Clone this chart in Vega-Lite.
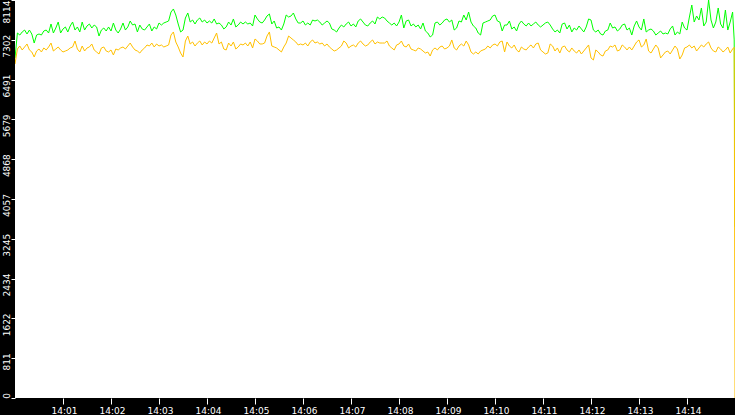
{
"$schema": "https://vega.github.io/schema/vega-lite/v6.json",
"width": 720,
"height": 398,
"autosize": "none",
"padding": {"left": 15, "top": 0, "right": 0, "bottom": 17},
"background": "#000000",
"config": {"view": {"fill": "#ffffff", "stroke": null}},
"data": {"format": {"parse": {"t": "date:'%H:%M:%S'"}}, "values": [
{"t":"14:00:00","g":6932,"o":6809},{"t":"14:00:03","g":7441,"o":7115},{"t":"14:00:06","g":7400,"o":7176},{"t":"14:00:09","g":7462,"o":7095},{"t":"14:00:12","g":7502,"o":7156},{"t":"14:00:15","g":7421,"o":7217},{"t":"14:00:18","g":7502,"o":7095},{"t":"14:00:21","g":7421,"o":7054},{"t":"14:00:24","g":7237,"o":6952},{"t":"14:00:27","g":7400,"o":7074},{"t":"14:00:30","g":7421,"o":7115},{"t":"14:00:33","g":7400,"o":7054},{"t":"14:00:36","g":7482,"o":7136},{"t":"14:00:39","g":7502,"o":7095},{"t":"14:00:42","g":7441,"o":7156},{"t":"14:00:45","g":7625,"o":7237},{"t":"14:00:48","g":7441,"o":7074},{"t":"14:00:51","g":7543,"o":7115},{"t":"14:00:54","g":7665,"o":7156},{"t":"14:00:57","g":7441,"o":7095},
{"t":"14:01:00","g":7523,"o":7054},{"t":"14:01:03","g":7564,"o":7074},{"t":"14:01:06","g":7462,"o":7095},{"t":"14:01:09","g":7584,"o":7136},{"t":"14:01:12","g":7665,"o":7156},{"t":"14:01:15","g":7502,"o":7278},{"t":"14:01:18","g":7564,"o":7115},{"t":"14:01:21","g":7462,"o":7054},{"t":"14:01:24","g":7665,"o":7176},{"t":"14:01:27","g":7502,"o":7074},{"t":"14:01:30","g":7584,"o":7136},{"t":"14:01:33","g":7625,"o":7156},{"t":"14:01:36","g":7543,"o":7217},{"t":"14:01:39","g":7604,"o":7095},{"t":"14:01:42","g":7564,"o":7054},{"t":"14:01:45","g":7380,"o":7013},{"t":"14:01:48","g":7502,"o":7136},{"t":"14:01:51","g":7543,"o":7156},{"t":"14:01:54","g":7482,"o":7074},{"t":"14:01:57","g":7564,"o":7054},
{"t":"14:02:00","g":7482,"o":7095},{"t":"14:02:03","g":7645,"o":6993},{"t":"14:02:06","g":7502,"o":7115},{"t":"14:02:09","g":7441,"o":7095},{"t":"14:02:12","g":7523,"o":7136},{"t":"14:02:15","g":7645,"o":7156},{"t":"14:02:18","g":7502,"o":7115},{"t":"14:02:21","g":7564,"o":7176},{"t":"14:02:24","g":7686,"o":7237},{"t":"14:02:27","g":7604,"o":7156},{"t":"14:02:30","g":7625,"o":7095},{"t":"14:02:33","g":7462,"o":7074},{"t":"14:02:36","g":7604,"o":7033},{"t":"14:02:39","g":7523,"o":7095},{"t":"14:02:42","g":7502,"o":7136},{"t":"14:02:45","g":7564,"o":7197},{"t":"14:02:48","g":7625,"o":7176},{"t":"14:02:51","g":7482,"o":7237},{"t":"14:02:54","g":7564,"o":7156},{"t":"14:02:57","g":7523,"o":7217},
{"t":"14:03:00","g":7645,"o":7176},{"t":"14:03:03","g":7604,"o":7197},{"t":"14:03:06","g":7645,"o":7156},{"t":"14:03:09","g":7665,"o":7176},{"t":"14:03:12","g":7686,"o":7197},{"t":"14:03:15","g":7869,"o":7400},{"t":"14:03:18","g":7931,"o":7462},{"t":"14:03:21","g":7808,"o":7258},{"t":"14:03:24","g":7625,"o":7156},{"t":"14:03:27","g":7462,"o":7033},{"t":"14:03:30","g":7502,"o":6952},{"t":"14:03:33","g":7747,"o":7278},{"t":"14:03:36","g":7849,"o":7380},{"t":"14:03:39","g":7665,"o":7217},{"t":"14:03:42","g":7706,"o":7258},{"t":"14:03:45","g":7625,"o":7176},{"t":"14:03:48","g":7706,"o":7237},{"t":"14:03:51","g":7747,"o":7278},{"t":"14:03:54","g":7665,"o":7197},{"t":"14:03:57","g":7706,"o":7258},
{"t":"14:04:00","g":7645,"o":7217},{"t":"14:04:03","g":7686,"o":7278},{"t":"14:04:06","g":7645,"o":7237},{"t":"14:04:09","g":7727,"o":7339},{"t":"14:04:12","g":7625,"o":7441},{"t":"14:04:15","g":7645,"o":7217},{"t":"14:04:18","g":7604,"o":7258},{"t":"14:04:21","g":7523,"o":7115},{"t":"14:04:24","g":7564,"o":7095},{"t":"14:04:27","g":7665,"o":7237},{"t":"14:04:30","g":7604,"o":7176},{"t":"14:04:33","g":7727,"o":7258},{"t":"14:04:36","g":7564,"o":7115},{"t":"14:04:39","g":7604,"o":7156},{"t":"14:04:42","g":7665,"o":7217},{"t":"14:04:45","g":7625,"o":7197},{"t":"14:04:48","g":7665,"o":7237},{"t":"14:04:51","g":7625,"o":7176},{"t":"14:04:54","g":7645,"o":7258},{"t":"14:04:57","g":7584,"o":7136},
{"t":"14:05:00","g":7808,"o":7319},{"t":"14:05:03","g":7727,"o":7278},{"t":"14:05:06","g":7665,"o":7217},{"t":"14:05:09","g":7645,"o":7217},{"t":"14:05:12","g":7706,"o":7237},{"t":"14:05:15","g":7788,"o":7380},{"t":"14:05:18","g":7829,"o":7462},{"t":"14:05:21","g":7625,"o":7176},{"t":"14:05:24","g":7686,"o":7156},{"t":"14:05:27","g":7543,"o":7136},{"t":"14:05:30","g":7564,"o":7095},{"t":"14:05:33","g":7502,"o":7054},{"t":"14:05:36","g":7625,"o":7156},{"t":"14:05:39","g":7808,"o":7237},{"t":"14:05:42","g":7767,"o":7380},{"t":"14:05:45","g":7788,"o":7339},{"t":"14:05:48","g":7849,"o":7299},{"t":"14:05:51","g":7727,"o":7258},{"t":"14:05:54","g":7645,"o":7197},{"t":"14:05:57","g":7645,"o":7217},
{"t":"14:06:00","g":7686,"o":7197},{"t":"14:06:03","g":7604,"o":7237},{"t":"14:06:06","g":7645,"o":7176},{"t":"14:06:09","g":7604,"o":7258},{"t":"14:06:12","g":7706,"o":7299},{"t":"14:06:15","g":7686,"o":7237},{"t":"14:06:18","g":7706,"o":7258},{"t":"14:06:21","g":7665,"o":7217},{"t":"14:06:24","g":7604,"o":7237},{"t":"14:06:27","g":7645,"o":7176},{"t":"14:06:30","g":7686,"o":7217},{"t":"14:06:33","g":7645,"o":7156},{"t":"14:06:36","g":7523,"o":7115},{"t":"14:06:39","g":7502,"o":7074},{"t":"14:06:42","g":7462,"o":7095},{"t":"14:06:45","g":7543,"o":7136},{"t":"14:06:48","g":7604,"o":7176},{"t":"14:06:51","g":7564,"o":7278},{"t":"14:06:54","g":7625,"o":7237},{"t":"14:06:57","g":7665,"o":7136},
{"t":"14:07:00","g":7584,"o":7176},{"t":"14:07:03","g":7625,"o":7197},{"t":"14:07:06","g":7564,"o":7156},{"t":"14:07:09","g":7686,"o":7237},{"t":"14:07:12","g":7727,"o":7278},{"t":"14:07:15","g":7665,"o":7217},{"t":"14:07:18","g":7604,"o":7176},{"t":"14:07:21","g":7584,"o":7197},{"t":"14:07:24","g":7645,"o":7258},{"t":"14:07:27","g":7686,"o":7299},{"t":"14:07:30","g":7625,"o":7217},{"t":"14:07:33","g":7767,"o":7258},{"t":"14:07:36","g":7727,"o":7237},{"t":"14:07:39","g":7767,"o":7237},{"t":"14:07:42","g":7747,"o":7237},{"t":"14:07:45","g":7686,"o":7278},{"t":"14:07:48","g":7645,"o":7176},{"t":"14:07:51","g":7604,"o":7136},{"t":"14:07:54","g":7645,"o":7095},{"t":"14:07:57","g":7584,"o":7197},
{"t":"14:08:00","g":7665,"o":7217},{"t":"14:08:03","g":7808,"o":7278},{"t":"14:08:06","g":7543,"o":7176},{"t":"14:08:09","g":7686,"o":7156},{"t":"14:08:12","g":7706,"o":7217},{"t":"14:08:15","g":7584,"o":7115},{"t":"14:08:18","g":7625,"o":7095},{"t":"14:08:21","g":7564,"o":7074},{"t":"14:08:24","g":7604,"o":7136},{"t":"14:08:27","g":7523,"o":7115},{"t":"14:08:30","g":7645,"o":7074},{"t":"14:08:33","g":7482,"o":7033},{"t":"14:08:36","g":7441,"o":7054},{"t":"14:08:39","g":7360,"o":6972},{"t":"14:08:42","g":7400,"o":7095},{"t":"14:08:45","g":7645,"o":7136},{"t":"14:08:48","g":7665,"o":7095},{"t":"14:08:51","g":7604,"o":7156},{"t":"14:08:54","g":7645,"o":7176},{"t":"14:08:57","g":7706,"o":7115},
{"t":"14:09:00","g":7727,"o":7136},{"t":"14:09:03","g":7665,"o":7176},{"t":"14:09:06","g":7706,"o":7299},{"t":"14:09:09","g":7502,"o":7136},{"t":"14:09:12","g":7543,"o":7095},{"t":"14:09:15","g":7686,"o":7176},{"t":"14:09:18","g":7665,"o":7217},{"t":"14:09:21","g":7808,"o":7176},{"t":"14:09:24","g":7706,"o":7278},{"t":"14:09:27","g":7869,"o":7197},{"t":"14:09:30","g":7665,"o":7054},{"t":"14:09:33","g":7584,"o":7013},{"t":"14:09:36","g":7543,"o":7054},{"t":"14:09:39","g":7441,"o":7013},{"t":"14:09:42","g":7400,"o":7074},{"t":"14:09:45","g":7645,"o":7095},{"t":"14:09:48","g":7665,"o":7115},{"t":"14:09:51","g":7686,"o":7176},{"t":"14:09:54","g":7706,"o":7136},{"t":"14:09:57","g":7788,"o":7197},
{"t":"14:10:00","g":7808,"o":7217},{"t":"14:10:03","g":7686,"o":7176},{"t":"14:10:06","g":7665,"o":7258},{"t":"14:10:09","g":7482,"o":7278},{"t":"14:10:12","g":7604,"o":7054},{"t":"14:10:15","g":7604,"o":7258},{"t":"14:10:18","g":7686,"o":7176},{"t":"14:10:21","g":7523,"o":7136},{"t":"14:10:24","g":7564,"o":7197},{"t":"14:10:27","g":7482,"o":7095},{"t":"14:10:30","g":7625,"o":7054},{"t":"14:10:33","g":7686,"o":7156},{"t":"14:10:36","g":7625,"o":7115},{"t":"14:10:39","g":7584,"o":7095},{"t":"14:10:42","g":7645,"o":7156},{"t":"14:10:45","g":7584,"o":7197},{"t":"14:10:48","g":7625,"o":7136},{"t":"14:10:51","g":7665,"o":7217},{"t":"14:10:54","g":7604,"o":7237},{"t":"14:10:57","g":7564,"o":7095},
{"t":"14:11:00","g":7604,"o":7054},{"t":"14:11:03","g":7645,"o":7013},{"t":"14:11:06","g":7665,"o":7033},{"t":"14:11:09","g":7604,"o":7217},{"t":"14:11:12","g":7523,"o":7176},{"t":"14:11:15","g":7462,"o":7074},{"t":"14:11:18","g":7502,"o":7136},{"t":"14:11:21","g":7441,"o":7033},{"t":"14:11:24","g":7625,"o":7156},{"t":"14:11:27","g":7645,"o":7176},{"t":"14:11:30","g":7523,"o":7095},{"t":"14:11:33","g":7604,"o":7054},{"t":"14:11:36","g":7462,"o":7136},{"t":"14:11:39","g":7543,"o":7074},{"t":"14:11:42","g":7502,"o":7033},{"t":"14:11:45","g":7584,"o":7095},{"t":"14:11:48","g":7523,"o":7013},{"t":"14:11:51","g":7462,"o":7074},{"t":"14:11:54","g":7564,"o":7136},{"t":"14:11:57","g":7727,"o":7197},
{"t":"14:12:00","g":7706,"o":6932},{"t":"14:12:03","g":7502,"o":6891},{"t":"14:12:06","g":7462,"o":7095},{"t":"14:12:09","g":7502,"o":7054},{"t":"14:12:12","g":7421,"o":6993},{"t":"14:12:15","g":7400,"o":6972},{"t":"14:12:18","g":7482,"o":7074},{"t":"14:12:21","g":7502,"o":7095},{"t":"14:12:24","g":7645,"o":7176},{"t":"14:12:27","g":7543,"o":7156},{"t":"14:12:30","g":7564,"o":7197},{"t":"14:12:33","g":7482,"o":7074},{"t":"14:12:36","g":7523,"o":7095},{"t":"14:12:39","g":7604,"o":7197},{"t":"14:12:42","g":7625,"o":7156},{"t":"14:12:45","g":7502,"o":7095},{"t":"14:12:48","g":7543,"o":7156},{"t":"14:12:51","g":7400,"o":7095},{"t":"14:12:54","g":7584,"o":7176},{"t":"14:12:57","g":7686,"o":7258},
{"t":"14:13:00","g":7564,"o":7299},{"t":"14:13:03","g":7502,"o":7156},{"t":"14:13:06","g":7727,"o":7197},{"t":"14:13:09","g":7462,"o":7319},{"t":"14:13:12","g":7502,"o":7074},{"t":"14:13:15","g":7523,"o":7033},{"t":"14:13:18","g":7482,"o":7115},{"t":"14:13:21","g":7400,"o":7197},{"t":"14:13:24","g":7441,"o":7136},{"t":"14:13:27","g":7482,"o":6932},{"t":"14:13:30","g":7421,"o":6993},{"t":"14:13:33","g":7441,"o":7054},{"t":"14:13:36","g":7421,"o":7074},{"t":"14:13:39","g":7523,"o":7013},{"t":"14:13:42","g":7584,"o":7095},{"t":"14:13:45","g":7400,"o":7176},{"t":"14:13:48","g":7462,"o":7115},{"t":"14:13:51","g":7421,"o":6911},{"t":"14:13:54","g":7665,"o":6993},{"t":"14:13:57","g":7543,"o":7136},
{"t":"14:14:00","g":7502,"o":7156},{"t":"14:14:03","g":7767,"o":7197},{"t":"14:14:06","g":8012,"o":7136},{"t":"14:14:09","g":7665,"o":7176},{"t":"14:14:12","g":7788,"o":7074},{"t":"14:14:15","g":7706,"o":7136},{"t":"14:14:18","g":7951,"o":7197},{"t":"14:14:21","g":7584,"o":7156},{"t":"14:14:24","g":7665,"o":7217},{"t":"14:14:27","g":8114,"o":7258},{"t":"14:14:30","g":7706,"o":7136},{"t":"14:14:33","g":7543,"o":7074},{"t":"14:14:36","g":7665,"o":7054},{"t":"14:14:39","g":7951,"o":7156},{"t":"14:14:42","g":7625,"o":7115},{"t":"14:14:45","g":7543,"o":7054},{"t":"14:14:48","g":7910,"o":7095},{"t":"14:14:51","g":7502,"o":7156},{"t":"14:14:54","g":7665,"o":7033},{"t":"14:14:57","g":7869,"o":7115},
{"t":"14:14:59","g":7300,"o":7150},{"t":"14:15:00","g":3490,"o":0}
]},
"transform": [{"fold": ["g", "o"], "as": ["series", "value"]}],
"mark": {"type": "line", "strokeWidth": 1, "clip": true},
"encoding": {
  "x": {
    "field": "t", "type": "temporal",
    "scale": {"nice": false, "domain": [
      {"year": 1900, "month": 1, "date": 1, "hours": 14, "minutes": 0},
      {"year": 1900, "month": 1, "date": 1, "hours": 14, "minutes": 15}]},
    "axis": {
      "title": null, "format": "%H:%M", "grid": false, "domain": false,
      "values": [
        {"year": 1900, "month": 1, "date": 1, "hours": 14, "minutes": 1},
        {"year": 1900, "month": 1, "date": 1, "hours": 14, "minutes": 2},
        {"year": 1900, "month": 1, "date": 1, "hours": 14, "minutes": 3},
        {"year": 1900, "month": 1, "date": 1, "hours": 14, "minutes": 4},
        {"year": 1900, "month": 1, "date": 1, "hours": 14, "minutes": 5},
        {"year": 1900, "month": 1, "date": 1, "hours": 14, "minutes": 6},
        {"year": 1900, "month": 1, "date": 1, "hours": 14, "minutes": 7},
        {"year": 1900, "month": 1, "date": 1, "hours": 14, "minutes": 8},
        {"year": 1900, "month": 1, "date": 1, "hours": 14, "minutes": 9},
        {"year": 1900, "month": 1, "date": 1, "hours": 14, "minutes": 10},
        {"year": 1900, "month": 1, "date": 1, "hours": 14, "minutes": 11},
        {"year": 1900, "month": 1, "date": 1, "hours": 14, "minutes": 12},
        {"year": 1900, "month": 1, "date": 1, "hours": 14, "minutes": 13},
        {"year": 1900, "month": 1, "date": 1, "hours": 14, "minutes": 14}],
      "tickColor": "#ffffff", "tickSize": 6, "tickWidth": 1,
      "labelColor": "#ffffff", "labelFont": "DejaVu Sans", "labelFontSize": 9,
      "labelBaseline": "alphabetic", "labelPadding": 9, "labelAlign": "center",
      "labelOffset": 1, "labelFlush": false, "labelOverlap": false
    }
  },
  "y": {
    "field": "value", "type": "quantitative",
    "scale": {"domain": [0, 8114], "nice": false, "zero": true},
    "axis": {
      "title": null, "grid": false, "domain": false,
      "values": [0, 811.4, 1622.8, 2434.2, 3245.6, 4057, 4868.4, 5679.8, 6491.2, 7302.6, 8114],
      "labelExpr": "floor(datum.value)",
      "tickColor": "#ffffff", "tickSize": 4, "tickWidth": 1,
      "labelColor": "#ffffff", "labelFont": "DejaVu Sans", "labelFontSize": 9,
      "labelAngle": -90, "labelBaseline": "alphabetic", "labelPadding": 2,
      "labelAlign": "right",
      "labelOffset": {"condition": {"test": "datum.value >= 8000", "value": 0}, "value": -5.5},
      "labelFlush": false, "labelOverlap": false
    }
  },
  "color": {
    "field": "series", "type": "nominal",
    "scale": {"domain": ["g", "o"], "range": ["#00ff00", "#ffc000"]},
    "legend": null
  }
}
}
